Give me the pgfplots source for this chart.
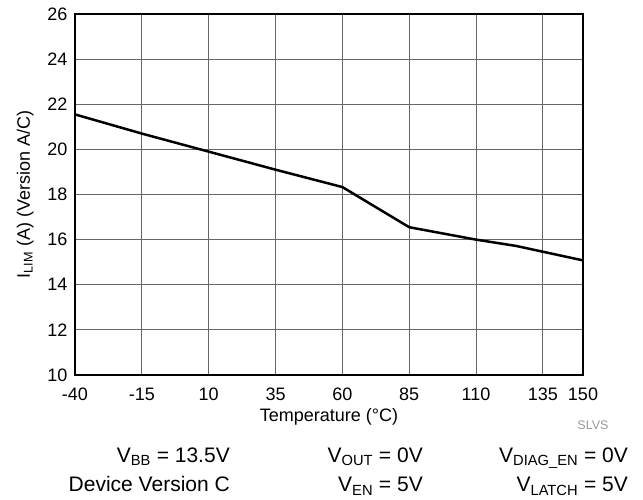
\documentclass[border=0pt]{standalone}
\usepackage{fontspec}
\setmainfont{Liberation Sans}
\usepackage{pgfplots}
\pgfplotsset{compat=1.18}
\begin{document}
\begin{tikzpicture}
\useasboundingbox (-75pt,-124pt) rectangle (568pt,375pt);
\begin{axis}[
    at={(0pt,0pt)}, anchor=south west,
    scale only axis,
    width=508pt, height=361pt,
    xmin=-40, xmax=150, ymin=10, ymax=26,
    xtick={-40,-15,10,35,60,85,110,135,150},
    xticklabels={-40,-15,10,35,60,85,110,135,150},
    ytick={10,12,...,26},
    major tick length=0pt,
    grid=major,
    major grid style={line width=1.1pt, black!60},
    axis line style={line width=2.6pt},
    tick label style={font=\fontsize{18}{21}\selectfont},
    xticklabel style={anchor=north, text height=13pt, text depth=0pt, yshift=-9pt},
    yticklabel style={xshift=-4pt},
    /pgf/number format/assume math mode=true,
    label style={font=\fontsize{18}{21}\selectfont},
    xlabel={Temperature (°C)},
    xlabel style={at={(axis description cs:0.5,-0.116)}, anchor=center},
    ylabel={I\textsubscript{LIM} (A) (Version A/C)},
    ylabel style={at={(axis description cs:-0.098,0.5)}, anchor=center},
    clip=false,
]
\addplot[black, line width=2.5pt] coordinates {
    (-40,21.55) (-15,20.7) (10,19.9) (35,19.1) (60,18.33)
    (85,16.55) (110,16.0) (125,15.72) (150,15.08)
};
\node[font=\fontsize{12.5}{14}\selectfont, text=black!40] at (axis description cs:1.0197,-0.1385) {SLVS};
\begin{scope}[every node/.style={font=\fontsize{21}{24}\selectfont, anchor=base east, inner sep=0pt}]
\node at (axis description cs:0.3051,-0.241) {V\textsubscript{BB} = 13.5V};
\node at (axis description cs:0.685,-0.241) {V\textsubscript{OUT} = 0V};
\node at (axis description cs:1.0886,-0.241) {V\textsubscript{DIAG\_EN} = 0V};
\node at (axis description cs:0.3051,-0.324) {Device Version C};
\node at (axis description cs:0.685,-0.324) {V\textsubscript{EN} = 5V};
\node at (axis description cs:1.0886,-0.324) {V\textsubscript{LATCH} = 5V};
\end{scope}
\end{axis}
\end{tikzpicture}
\end{document}
